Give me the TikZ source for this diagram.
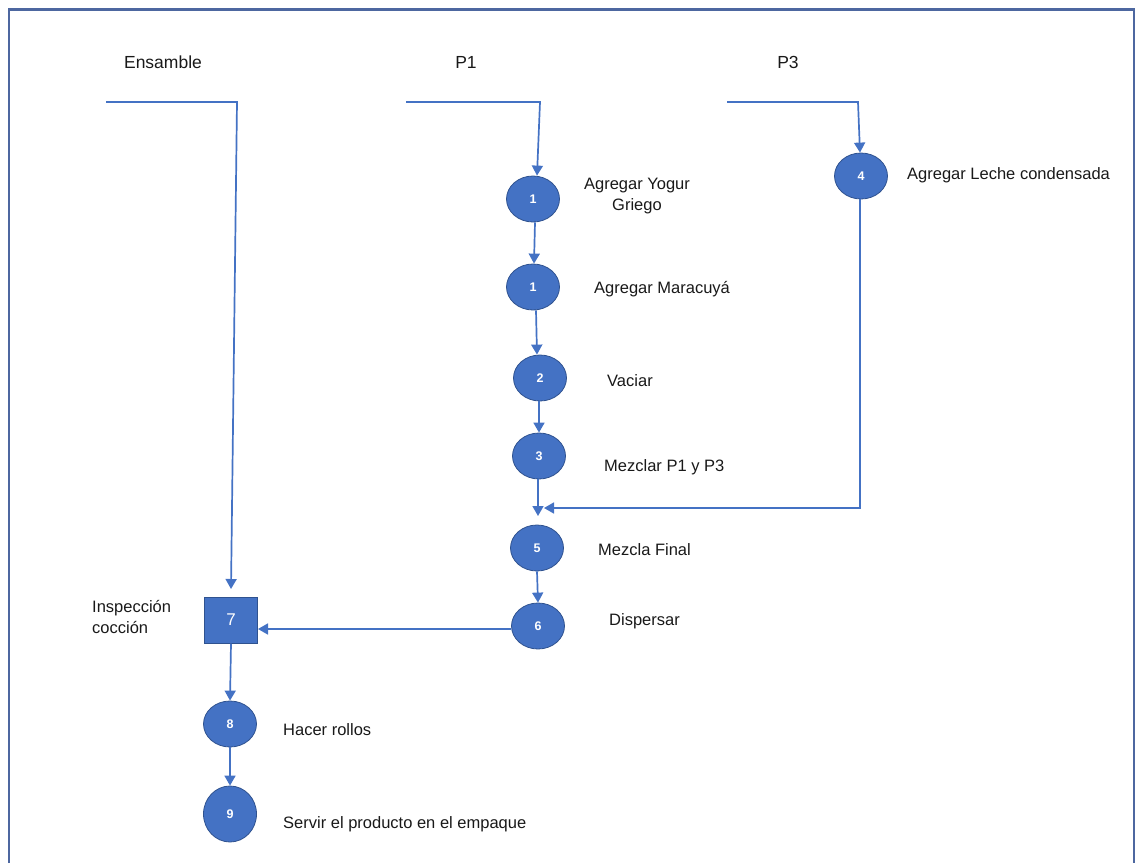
\documentclass[tikz,border=0pt]{standalone}
\usepackage{fontspec}
\setmainfont{Liberation Sans}
\usetikzlibrary{arrows.meta,shapes.geometric}
\definecolor{opfill}{HTML}{4472C4}
\definecolor{opedge}{HTML}{2F528F}
\definecolor{flow}{HTML}{4472C4}
\definecolor{frame}{HTML}{4D67A0}
\tikzset{
  op/.style={ellipse, fill=opfill, draw=opedge, line width=0.8pt,
    minimum width=53pt, minimum height=46pt, inner sep=0pt,
    text=white, font=\fontsize{12.5}{14}\selectfont\bfseries},
  insp/.style={rectangle, fill=opfill, draw=opedge, line width=1pt,
    minimum width=53pt, minimum height=46pt, inner sep=0pt,
    text=white, font=\fontsize{17}{20}\selectfont},
  lbl/.style={inner sep=0pt, font=\fontsize{16.5}{21}\selectfont, text=black!90},
  head/.style={inner sep=0pt, font=\fontsize{17.5}{21}\selectfont, text=black!90},
  flowline/.style={draw=flow, line width=1.7pt},
  flowarrow/.style={flowline, -{Triangle[length=10pt,width=11pt]}},
}
\begin{document}
\begin{tikzpicture}[x=1pt,y=-1pt]
\useasboundingbox (0,0) rectangle (1136,863);
% page frame (open at the bottom)
\draw[frame, line width=2.5pt] (9,863) -- (9,9.5) -- (1134,9.5) -- (1134,863);

% column headings
\node[head] (hE) at (163,62) {Ensamble};
\node[head] (hP1) at (466,62) {P1};
\node[head] (hP3) at (788,62) {P3};

% operations
\node[op] (c1a) at (533,199) {1};
\node[op] (c1b) at (533,287) {1};
\node[op] (c2)  at (540,378) {2};
\node[op] (c3)  at (539,456) {3};
\node[op] (c5)  at (537,548) {5};
\node[op] (c6)  at (538,626) {6};
\node[op] (c4)  at (861,176) {4};
\node[insp] (s7) at (231,620) {7};
\node[op] (c8)  at (230,724) {8};
\node[op, minimum height=56pt] (c9) at (230,814) {9};

% descriptions
\node[lbl, align=center] (t1a) at (637,196) {Agregar Yogur\\Griego};
\node[lbl, anchor=west] (t1b) at (594,289) {Agregar Maracuyá};
\node[lbl, anchor=west] (t2)  at (607,381) {Vaciar};
\node[lbl, anchor=west] (t3)  at (604,467) {Mezclar P1 y P3};
\node[lbl, anchor=west] (t5)  at (598,550) {Mezcla Final};
\node[lbl, anchor=west] (t6)  at (609,621) {Dispersar};
\node[lbl, anchor=west] (t4)  at (907,175) {Agregar Leche condensada};
\node[lbl, anchor=west, align=left] (t7) at (92,617) {Inspección\\cocción};
\node[lbl, anchor=west] (t8)  at (283,730) {Hacer rollos};
\node[lbl, anchor=west] (t9)  at (283,824) {Servir el producto en el empaque};

% entry points of the three lines
\coordinate (eA) at (106,102);
\coordinate (eB) at (237,102);
\coordinate (eEnd) at (231,589);
\coordinate (pA) at (406,102);
\coordinate (pB) at (540,102);
\coordinate (qA) at (727,102);
\coordinate (qB) at (858,102);
\coordinate (mTip) at (538,516);
\coordinate (mCorner) at (860,508);
\coordinate (mEnd) at (544,508);

% Ensamble line
\draw[flowarrow] (eA) -- (eB) -- (eEnd);
% P1 line
\draw[flowarrow] (pA) -- (pB) -- ([xshift=4pt]c1a.north);
\draw[flowarrow] ([xshift=2pt]c1a.south) -- ([xshift=1pt]c1b.north);
\draw[flowarrow] ([xshift=3pt]c1b.south) -- ([xshift=-3pt]c2.north);
\draw[flowarrow] ([xshift=-1pt]c2.south) -- (c3.north);
\draw[flowarrow] ([xshift=-1pt]c3.south) -- (mTip);
% P3 line
\draw[flowarrow] (qA) -- (qB) -- ([xshift=-1pt]c4.north);
\draw[flowarrow] ([xshift=-1pt]c4.south) -- (mCorner) -- (mEnd);
% after the merge
\draw[flowarrow] (c5.south) -- (c6.north);
\draw[flowarrow] ([yshift=-3pt]c6.west) -- ([yshift=-9pt]s7.east);
\draw[flowarrow] (s7.south) -- (c8.north);
\draw[flowarrow] (c8.south) -- (c9.north);
\end{tikzpicture}
\end{document}
